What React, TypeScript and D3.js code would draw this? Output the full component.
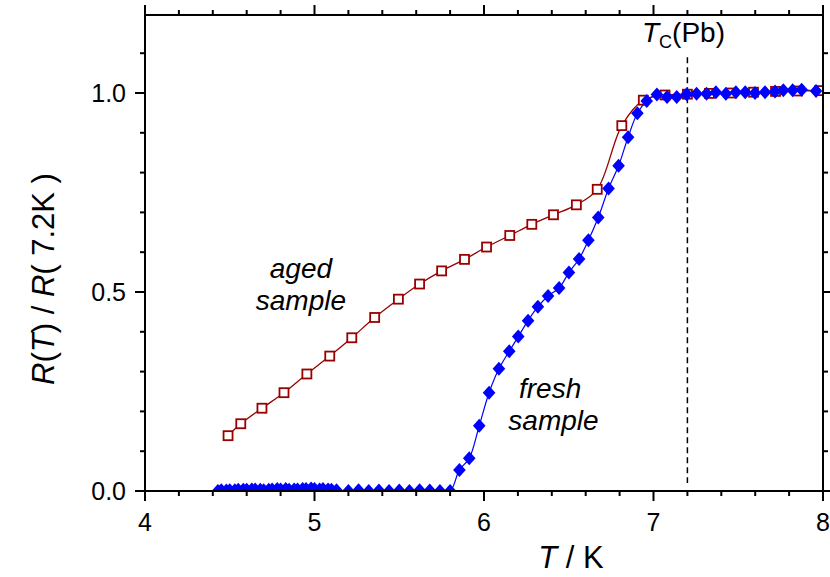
import React from "react";
import * as d3 from "d3";

// aged sample: [T (K), R(T)/R(7.2K)]
const agedT = [4.49, 4.565, 4.69, 4.82, 4.955, 5.09, 5.22, 5.355, 5.495, 5.62, 5.75, 5.885, 6.015, 6.152, 6.282, 6.41, 6.545, 6.668, 6.813, 6.94, 7.068, 7.2, 7.33, 7.46, 7.59, 7.72, 7.85, 7.98];
const agedR = [0.139, 0.169, 0.208, 0.247, 0.294, 0.339, 0.385, 0.436, 0.482, 0.52, 0.553, 0.582, 0.613, 0.642, 0.67, 0.694, 0.719, 0.758, 0.918, 0.982, 0.995, 0.997, 0.999, 1.0, 1.002, 1.004, 1.005, 1.006];

// fresh sample
const freshT = [4.43, 4.45, 4.48, 4.5, 4.53, 4.55, 4.58, 4.6, 4.63, 4.65, 4.68, 4.7, 4.73, 4.75, 4.78, 4.8, 4.83, 4.85, 4.88, 4.9, 4.93, 4.95, 4.98, 5.0, 5.03, 5.05, 5.08, 5.1, 5.13,
  5.2, 5.26, 5.32, 5.38, 5.44, 5.5, 5.56, 5.62, 5.68, 5.74, 5.8,
  5.855, 5.913, 5.972, 6.03, 6.088, 6.149, 6.202, 6.26, 6.318, 6.378, 6.443, 6.501, 6.561, 6.616, 6.674, 6.735, 6.794, 6.85, 6.905, 6.96,
  7.02, 7.08, 7.137, 7.196, 7.254, 7.313, 7.368, 7.427, 7.486, 7.541, 7.599, 7.658, 7.717, 7.766, 7.821, 7.874, 7.959];
const freshR = [0.0, 0.002, 0.001, 0.002, 0.002, 0.003, 0.003, 0.003, 0.004, 0.004, 0.003, 0.002, 0.003, 0.004, 0.005, 0.004, 0.005, 0.003, 0.004, 0.004, 0.005, 0.005, 0.006, 0.005, 0.004, 0.005, 0.004, 0.003, 0.002,
  0.0, 0.002, 0.0, 0.001, 0.0, 0.001, 0.0, 0.002, 0.001, 0.0, 0.0,
  0.053, 0.082, 0.164, 0.247, 0.307, 0.351, 0.388, 0.428, 0.463, 0.49, 0.51, 0.549, 0.583, 0.63, 0.687, 0.76, 0.817, 0.889, 0.949, 0.98,
  0.996, 0.99, 0.99, 0.997, 0.998, 0.998, 1.002, 0.998, 1.002, 1.002, 1.0, 1.002, 1.004, 1.007, 1.007, 1.008, 1.005];
// the fresh trace starts on the baseline before the first marker
const freshLeadT = [4.0, 4.4];
const freshLeadR = [0, 0];

const tcT = 7.2;
const tcRange = [0.02, 1.09];

const xMajor = [4, 5, 6, 7, 8];
const yMajor = [0, 0.5, 1.0];
const yLabels = ["0.0", "0.5", "1.0"];

const W = 830;
const H = 577;
const FONT = "'Liberation Sans', Arial, sans-serif";

export default function App() {
  const x = d3.scaleLinear().domain([4, 8]).range([145, 823]);
  const y = d3.scaleLinear().domain([0, 1]).range([491, 93]);
  const top = y(1.196);
  const left = x(4), right = x(8), bottom = y(0);

  const xMinor = d3.range(4, 8.001, 0.2);
  const yMinor = d3.range(0, 1.15, 0.1);

  const line = d3.line<[number, number]>()
    .x((d) => x(d[0]))
    .y((d) => y(d[1]))
    .curve(d3.curveCatmullRom.alpha(0.5));

  const aged: [number, number][] = agedT.map((t, i) => [t, agedR[i]]);
  const fresh: [number, number][] = freshT.map((t, i) => [t, freshR[i]]);
  const freshLead: [number, number][] = freshLeadT.map((t, i) => [t, freshLeadR[i]]);

  return (
    <svg width={W} height={H} style={{ position: "absolute", left: 0, top: 0 }} fontFamily={FONT}>
      <rect width={W} height={H} fill="white" />
      <defs>
        <clipPath id="plot">
          <rect x={left} y={top} width={right - left} height={bottom - top} />
        </clipPath>
      </defs>

      {/* Tc dashed line */}
      <line x1={x(tcT)} x2={x(tcT)} y1={y(tcRange[1])} y2={y(tcRange[0])}
        stroke="black" strokeWidth={1.5} strokeDasharray="6,4" />

      <g clipPath="url(#plot)">
        <path d={line(freshLead) || ""} fill="none" stroke="#0000ff" strokeWidth={1.2} />
        <path d={line(fresh) || ""} fill="none" stroke="#0000ff" strokeWidth={1.2} />
        <path d={line(aged) || ""} fill="none" stroke="#990000" strokeWidth={1.3} />
        {aged.map((d, i) => (
          <rect key={"a" + i} x={x(d[0]) - 4.5} y={y(d[1]) - 4.5} width={9} height={9}
            fill="white" stroke="#990000" strokeWidth={1.8} />
        ))}
        {fresh.map((d, i) => (
          <path key={"f" + i} transform={`translate(${x(d[0])},${y(d[1])})`}
            d="M0,-7L6.3,0L0,7L-6.3,0Z" fill="#0000ff" />
        ))}
      </g>

      {/* frame */}
      <rect x={left} y={top} width={right - left} height={bottom - top} fill="none" stroke="black" strokeWidth={2} />

      {/* x ticks bottom and top */}
      {xMinor.map((v, i) => {
        const major = Math.abs(v - Math.round(v)) < 1e-6;
        const len = major ? 10 : 5;
        return (
          <g key={"xt" + i}>
            <line x1={x(v)} x2={x(v)} y1={bottom} y2={bottom + len} stroke="black" strokeWidth={2} />
            <line x1={x(v)} x2={x(v)} y1={top} y2={top - len} stroke="black" strokeWidth={2} />
          </g>
        );
      })}
      {yMinor.map((v, i) => {
        const major = Math.abs(v * 2 - Math.round(v * 2)) < 1e-6;
        const len = major ? 10 : 5;
        return (
          <g key={"yt" + i}>
            <line x1={left} x2={left - len} y1={y(v)} y2={y(v)} stroke="black" strokeWidth={2} />
            <line x1={right} x2={right + len} y1={y(v)} y2={y(v)} stroke="black" strokeWidth={2} />
          </g>
        );
      })}

      {xMajor.map((v) => (
        <text key={"xl" + v} x={x(v)} y={bottom + 40} textAnchor="middle" fontSize={25}>{v}</text>
      ))}
      {yMajor.map((v, i) => (
        <text key={"yl" + v} x={left - 19} y={y(v) + 9} textAnchor="end" fontSize={25}>{yLabels[i]}</text>
      ))}

      {/* axis titles */}
      <text x={571} y={568} textAnchor="middle" fontSize={31}>
        <tspan fontStyle="italic">T</tspan> / K
      </text>
      <text transform={`translate(54,${279}) rotate(-90)`} textAnchor="middle" fontSize={31}>
        <tspan fontStyle="italic">R</tspan>(<tspan fontStyle="italic">T</tspan>) / <tspan fontStyle="italic">R</tspan>( 7.2K )
      </text>

      {/* annotations */}
      <text x={x(4.92)} y={y(0.535)} textAnchor="middle" fontSize={28} fontStyle="italic">aged</text>
      <text x={x(4.92)} y={y(0.455)} textAnchor="middle" fontSize={28} fontStyle="italic">sample</text>
      <text x={x(6.39)} y={y(0.234)} textAnchor="middle" fontSize={28} fontStyle="italic">fresh</text>
      <text x={x(6.41)} y={y(0.153)} textAnchor="middle" fontSize={28} fontStyle="italic">sample</text>

      <text x={642} y={42} fontSize={28}>
        <tspan fontStyle="italic">T</tspan>
        <tspan fontSize={18} dy={6}>C</tspan>
        <tspan dy={-6}>(Pb)</tspan>
      </text>
    </svg>
  );
}
